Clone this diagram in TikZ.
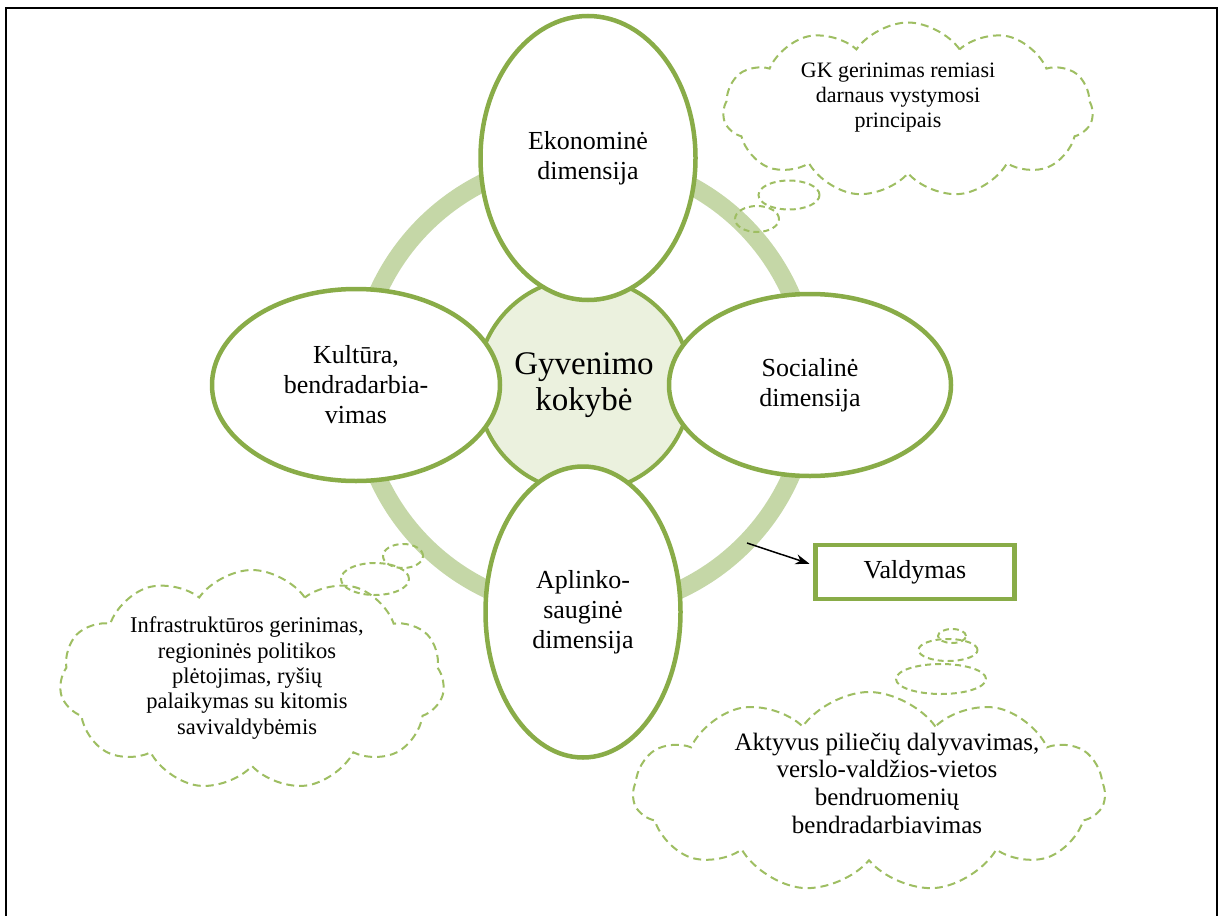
\documentclass[tikz,border=0pt]{standalone}
\usepackage{fontspec}
\setmainfont{Liberation Serif}
\usetikzlibrary{shapes.geometric,shapes.symbols,arrows.meta,calc}
\definecolor{gborder}{RGB}{137,172,72}
\definecolor{gring}{RGB}{197,215,167}
\definecolor{gfill}{RGB}{235,241,222}
\definecolor{gdash}{RGB}{158,190,98}
\begin{document}
\begin{tikzpicture}[x=1pt,y=-1pt,
  dimell/.style={ellipse, draw=gborder, line width=4.5pt, fill=white, inner sep=0pt, align=center, font=\fontsize{26}{30}\selectfont},
  cloudbox/.style={cloud, draw=gdash, line width=2pt, dash pattern=on 8pt off 5pt, cloud puffs=11, cloud puff arc=110, inner sep=0pt},
  bubble/.style={ellipse, draw=gdash, line width=2pt, dash pattern=on 6pt off 4pt, inner sep=0pt},
  cloudtext/.style={align=center, inner sep=0pt},
]
\useasboundingbox (0,0) rectangle (1220,915);
\draw[line width=2.5pt] (6,917) -- (6,8) -- (1217,8) -- (1217,917);

% ring and centre
\node[circle, draw=gring, line width=18pt, minimum size=452pt, inner sep=0pt] (ring) at (584,385) {};
\node[circle, draw=gborder, fill=gfill, line width=4pt, minimum size=214pt, inner sep=0pt, align=center, font=\fontsize{33}{36}\selectfont] (gk) at (584,385) {Gyvenimo\\kokybė};

% dimensions
\node[dimell, minimum width=215pt, minimum height=284pt] (eko) at (588,158) {Ekonominė\\dimensija};
\node[dimell, minimum width=288pt, minimum height=192pt] (kul) at (356,385) {Kultūra,\\bendradarbia-\\vimas};
\node[dimell, minimum width=282pt, minimum height=182pt] (soc) at (810,385) {Socialinė\\dimensija};
\node[dimell, minimum width=195pt, minimum height=291pt] (apl) at (583,612) {Aplinko-\\sauginė\\dimensija};

% Valdymas
\node[draw=gborder, line width=4.5pt, minimum width=199pt, minimum height=54pt, inner sep=0pt, font=\fontsize{26}{30}\selectfont] (val) at (915,572) {Valdymas};
\coordinate (arrs) at (747,543);
\draw[-{Stealth[length=14pt,width=10pt]}, line width=1.5pt, shorten >=4pt] (arrs) -- ([yshift=7pt]val.west);

% cloud 1
\node[cloudbox, aspect=2.1, minimum width=370pt, minimum height=175pt] (c1) at (908,110) {};
\node[cloudtext, font=\fontsize{22}{25}\selectfont] (t1) at (898,98) {GK gerinimas remiasi\\darnaus vystymosi\\principais};
\node[bubble, minimum width=61pt, minimum height=29pt] (b11) at (789,195) {};
\node[bubble, minimum width=44pt, minimum height=26pt] (b12) at (757,219) {};

% cloud 2
\node[cloudbox, aspect=1.75, minimum width=385pt, minimum height=220pt] (c2) at (252,680) {};
\node[cloudtext, font=\fontsize{22.5}{25.3}\selectfont] (t2) at (247,678) {Infrastruktūros gerinimas,\\regioninės politikos\\plėtojimas, ryšių\\palaikymas su kitomis\\savivaldybėmis};
\node[bubble, minimum width=68pt, minimum height=32pt] (b21) at (375,579) {};
\node[bubble, minimum width=40pt, minimum height=24pt] (b22) at (403,556) {};

% cloud 3
\node[cloudbox, aspect=2.36, minimum width=472pt, minimum height=200pt] (c3) at (869,792) {};
\node[cloudtext, font=\fontsize{25}{27.7}\selectfont] (t3) at (887,783) {Aktyvus piliečių dalyvavimas,\\verslo-valdžios-vietos\\bendruomenių\\bendradarbiavimas};
\node[bubble, minimum width=90pt, minimum height=30pt] (b31) at (941,679) {};
\node[bubble, minimum width=59pt, minimum height=22pt] (b32) at (948,650) {};
\node[bubble, minimum width=28pt, minimum height=14pt] (b33) at (952,636) {};
\end{tikzpicture}
\end{document}
